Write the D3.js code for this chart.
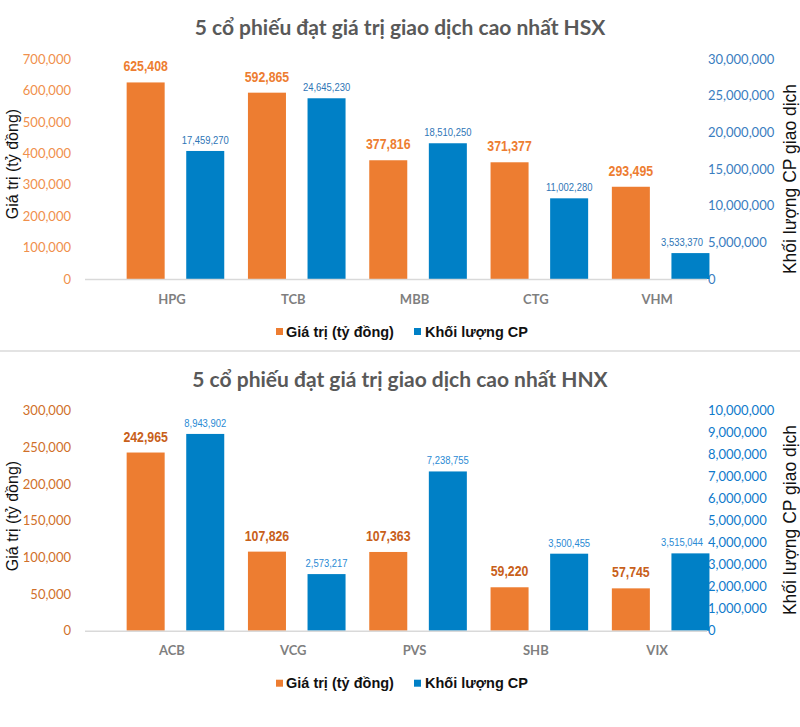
<!DOCTYPE html>
<html>
<head>
<meta charset="utf-8">
<script src="https://cdn.jsdelivr.net/npm/d3@7"></script>
<style>
  html, body { margin: 0; padding: 0; background: #ffffff; }
  svg { display: block; }
</style>
</head>
<body>
<svg id="chart" width="800" height="727"></svg>
<script>
// ---- Data ----
const hsxTitle = "5 cổ phiếu đạt giá trị giao dịch cao nhất HSX";
const hsxCategories = ["HPG", "TCB", "MBB", "CTG", "VHM"];
const hsxValue = [625408, 592865, 377816, 371377, 293495];
const hsxVolume = [17459270, 24645230, 18510250, 11002280, 3533370];
const hsxLeftTicks = [0, 100000, 200000, 300000, 400000, 500000, 600000, 700000];
const hsxRightTicks = [0, 5000000, 10000000, 15000000, 20000000, 25000000, 30000000];

const hnxTitle = "5 cổ phiếu đạt giá trị giao dịch cao nhất HNX";
const hnxCategories = ["ACB", "VCG", "PVS", "SHB", "VIX"];
const hnxValue = [242965, 107826, 107363, 59220, 57745];
const hnxVolume = [8943902, 2573217, 7238755, 3500455, 3515044];
const hnxLeftTicks = [0, 50000, 100000, 150000, 200000, 250000, 300000];
const hnxRightTicks = [0, 1000000, 2000000, 3000000, 4000000, 5000000, 6000000, 7000000, 8000000, 9000000, 10000000];

const seriesNames = ["Giá trị (tỷ đồng)", "Khối lượng CP"];
const leftAxisTitle = "Giá trị (tỷ đồng)";
const rightAxisTitle = "Khối lượng CP giao dịch";

// ---- Drawing ----
const svg = d3.select("#chart");
const fmt = d3.format(",");
const ORANGE = "#ED7D31", BLUE = "#0080C6";
const arial = "'Liberation Sans',Arial,sans-serif";
const body = "Lato,'Open Sans',sans-serif";

function drawChart(cfg) {
  const g = svg.append("g");
  const top = cfg.top, bottom = cfg.bottom;
  const plotLeft = 85, plotRight = 707;

  const x0 = d3.scaleBand().domain(cfg.categories).range([114.8, 721.3]).paddingInner(0).paddingOuter(0);
  const x1 = d3.scaleBand().domain([0, 1]).range([11.85, 109.45]).paddingInner(0.362);
  const yL = d3.scaleLinear().domain([0, d3.max(cfg.leftTicks)]).range([bottom, top]);
  const yR = d3.scaleLinear().domain([0, d3.max(cfg.rightTicks)]).range([bottom, top]);

  // title
  g.append("text").attr("x", 400).attr("y", cfg.titleY)
    .attr("text-anchor", "middle").attr("dominant-baseline", "central")
    .style("font-family", body).style("font-weight", 700).style("font-size", "21px")
    .style("fill", "#595959").text(cfg.title);

  // left axis
  const la = g.append("g").attr("transform", `translate(${71},0)`)
    .call(d3.axisLeft(yL).tickValues(cfg.leftTicks).tickFormat(fmt).tickSize(0).tickPadding(0));
  la.select(".domain").remove();
  la.selectAll("text").style("font-family", body).style("font-size", "13px").style("fill", cfg.leftTickColor);

  // right axis
  const ra = g.append("g").attr("transform", `translate(${708},0)`)
    .call(d3.axisRight(yR).tickValues(cfg.rightTicks).tickFormat(fmt).tickSize(0).tickPadding(0));
  ra.select(".domain").remove();
  ra.selectAll("text").style("font-family", body).style("font-size", "13px").style("fill", cfg.rightTickColor);

  // axis titles
  g.append("text").attr("transform", `translate(12,${cfg.leftTitleY}) rotate(-90)`)
    .attr("text-anchor", "middle").attr("dominant-baseline", "central")
    .style("font-family", arial).style("font-size", "16px").style("fill", "#111").text(leftAxisTitle);
  g.append("text").attr("transform", `translate(790,${cfg.rightTitleY}) rotate(-90)`)
    .attr("text-anchor", "middle").attr("dominant-baseline", "central")
    .style("font-family", arial).style("font-size", "17.5px").style("fill", "#111").text(rightAxisTitle);

  // bars
  const groups = g.selectAll("g.grp").data(cfg.categories).join("g")
    .attr("class", "grp").attr("transform", d => `translate(${x0(d)},0)`);
  groups.append("rect")
    .attr("x", x1(0)).attr("width", x1.bandwidth())
    .attr("y", (d, i) => yL(cfg.value[i])).attr("height", (d, i) => bottom - yL(cfg.value[i]))
    .attr("fill", ORANGE);
  groups.append("rect")
    .attr("x", x1(1)).attr("width", x1.bandwidth())
    .attr("y", (d, i) => yR(cfg.volume[i])).attr("height", (d, i) => bottom - yR(cfg.volume[i]))
    .attr("fill", BLUE);

  // data labels (condensed look via horizontal scale)
  groups.append("text")
    .attr("transform", (d, i) => `translate(${x1(0) + x1.bandwidth() / 2},${yL(cfg.value[i]) - 11}) scale(0.85,1)`)
    .attr("text-anchor", "middle")
    .style("font-family", arial).style("font-weight", 700).style("font-size", "14.5px")
    .style("fill", cfg.valueLabelColor).text((d, i) => fmt(cfg.value[i]));
  groups.append("text")
    .attr("transform", (d, i) => `translate(${x1(1) + x1.bandwidth() / 2},${yR(cfg.volume[i]) - 7}) scale(0.8,1)`)
    .attr("text-anchor", "middle")
    .style("font-family", arial).style("font-size", "11.8px")
    .style("fill", cfg.volumeLabelColor).text((d, i) => fmt(cfg.volume[i]))
    .each(function (d, i) {
      // keep the label clear of the right axis labels
      const w = this.getComputedTextLength() * 0.8;
      const cx = x0(d) + x1(1) + x1.bandwidth() / 2;
      const overflow = cx + w / 2 - 703;
      if (overflow > 0) {
        d3.select(this).attr("transform",
          `translate(${x1(1) + x1.bandwidth() / 2 - overflow},${yR(cfg.volume[i]) - 7}) scale(0.8,1)`);
      }
    });

  // baseline
  g.append("line").attr("x1", plotLeft).attr("x2", plotRight)
    .attr("y1", bottom + 0.5).attr("y2", bottom + 0.5)
    .attr("stroke", "#D9D9D9").attr("stroke-width", 1.5);

  // category axis
  const xa = g.append("g").attr("transform", `translate(-3.5,${bottom + 20})`)
    .call(d3.axisBottom(x0).tickSize(0).tickPadding(0));
  xa.select(".domain").remove();
  xa.selectAll("text").attr("dy", "0.35em")
    .style("font-family", body).style("font-weight", 700).style("font-size", "13px").style("fill", "#7F7F7F");

  // legend
  const ly = bottom + 52.5;
  const legendX = [[276, 286], [414, 425]];
  const colors = [ORANGE, BLUE];
  seriesNames.forEach((name, i) => {
    g.append("rect").attr("x", legendX[i][0]).attr("y", ly - 3.5).attr("width", 7).attr("height", 7).attr("fill", colors[i]);
    g.append("text").attr("x", legendX[i][1]).attr("y", ly).attr("dominant-baseline", "central")
      .style("font-family", arial).style("font-weight", 700).style("font-size", "14.5px")
      .style("fill", "#111").text(name);
  });
}

drawChart({
  title: hsxTitle, titleY: 26, top: 59, bottom: 279, leftTitleY: 164, rightTitleY: 179,
  categories: hsxCategories, value: hsxValue, volume: hsxVolume,
  leftTicks: hsxLeftTicks, rightTicks: hsxRightTicks,
  leftTickColor: "#F0904C", rightTickColor: "#3A7DC0",
  valueLabelColor: "#ED7D31", volumeLabelColor: "#2E75B6"
});

// separator
svg.append("line").attr("x1", 0).attr("x2", 800).attr("y1", 351).attr("y2", 351)
  .attr("stroke", "#E3E3E3").attr("stroke-width", 2);

drawChart({
  title: hnxTitle, titleY: 378.5, top: 410.7, bottom: 630.7, leftTitleY: 516, rightTitleY: 520,
  categories: hnxCategories, value: hnxValue, volume: hnxVolume,
  leftTicks: hnxLeftTicks, rightTicks: hnxRightTicks,
  leftTickColor: "#D0702A", rightTickColor: "#0F7ACB",
  valueLabelColor: "#C8601A", volumeLabelColor: "#2A8AD4"
});
</script>
</body>
</html>
